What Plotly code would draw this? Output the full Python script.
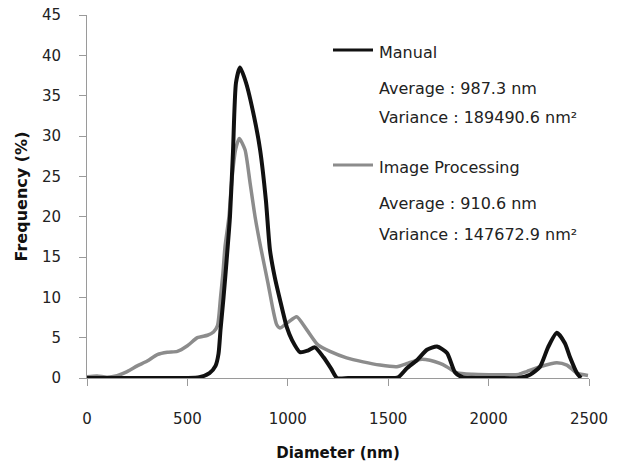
import plotly.graph_objects as go

# ---- data ----
series_names = ["Manual", "Image Processing"]
manual_avg = "Average : 987.3 nm"
manual_var = "Variance : 189490.6 nm²"
image_avg = "Average : 910.6 nm"
image_var = "Variance : 147672.9 nm²"

manual_d = [0, 100, 200, 300, 400, 500, 560, 610, 640, 655, 665, 680, 695, 712, 727, 742, 762,
            792, 832, 862, 891, 911, 935, 961, 995, 1021, 1061, 1100, 1135, 1177, 1215, 1245,
            1300, 1400, 1500, 1550, 1593, 1643, 1693, 1743, 1793, 1833, 1870, 1950, 2050, 2150,
            2206, 2256, 2296, 2340, 2380, 2405, 2440, 2460]
manual_f = [0, 0, 0, 0, 0, 0, 0.1, 0.6, 1.5, 3, 6, 10, 14.5, 20, 28, 36.6, 38.5,
            36.6, 32.4, 28.3, 22, 15.9, 12.5, 9.7, 6.3, 4.7, 3.2, 3.4, 3.8, 2.6, 1.2, 0,
            0, 0, 0, 0.1, 1.2, 2.2, 3.5, 3.9, 3.1, 0.7, 0.1, 0, 0, 0,
            0.4, 1.4, 3.8, 5.6, 4.3, 2.6, 0.6, 0]

image_d = [0, 50, 100, 150, 200, 250, 300, 350, 400, 450, 500, 550, 600, 630, 650, 665, 677,
           687, 707, 720, 740, 758, 787, 812, 837, 865, 901, 927, 945, 961, 1001, 1044, 1094,
           1150, 1210, 1293, 1375, 1459, 1543, 1600, 1658, 1708, 1758, 1791, 1841, 1920, 2000,
           2100, 2150, 2190, 2256, 2340, 2390, 2440, 2495]
image_f = [0.15, 0.25, 0.1, 0.3, 0.8, 1.5, 2.1, 2.9, 3.2, 3.3, 4.0, 5.0, 5.3, 5.7, 6.5, 10, 13,
           16.2, 20, 24.2, 28.3, 29.7, 28.3, 24.2, 20, 16.2, 11.8, 8.4, 6.6, 6.2, 6.9, 7.6, 6.0,
           4.1, 3.3, 2.5, 2.0, 1.6, 1.4, 1.85, 2.3, 2.2, 1.8, 1.4, 0.66, 0.45, 0.4,
           0.4, 0.45, 0.8, 1.4, 1.9, 1.6, 0.6, 0.3]

x_ticks = [0, 500, 1000, 1500, 2000, 2500]
y_ticks = [0, 5, 10, 15, 20, 25, 30, 35, 40, 45]

# ---- layout geometry ----
W, H = 621, 468
L, R, T, B = 87, 589, 15, 378  # plot area in pixels

def px(x):
    return (x - L) / (R - L)

def py(y):
    return (B - y) / (B - T)

BLACK = "#111111"
GRAY = "#8c8c8c"
AXIS = "#9a9a9a"
FONT = "DejaVu Sans"

fig = go.Figure()
fig.add_trace(go.Scatter(x=image_d, y=image_f, mode="lines", name=series_names[1],
                         line=dict(color=GRAY, width=3.5, shape="spline", smoothing=0.6),
                         showlegend=False))
fig.add_trace(go.Scatter(x=manual_d, y=manual_f, mode="lines", name=series_names[0],
                         line=dict(color=BLACK, width=4, shape="spline", smoothing=0.6),
                         showlegend=False))

# legend drawn manually
shapes = [
    dict(type="line", xref="paper", yref="paper", x0=px(333), x1=px(373), y0=py(50), y1=py(50),
         line=dict(color=BLACK, width=3)),
    dict(type="line", xref="paper", yref="paper", x0=px(333), x1=px(373), y0=py(165), y1=py(165),
         line=dict(color=GRAY, width=3)),
]
texts = [
    (series_names[0], 52), (manual_avg, 88), (manual_var, 118),
    (series_names[1], 167), (image_avg, 203), (image_var, 234),
]
annotations = []
for t, y in texts:
    annotations.append(dict(text=t, xref="paper", yref="paper", x=px(377), y=py(y),
                            xanchor="left", yanchor="middle", showarrow=False,
                            font=dict(family=FONT, size=16, color="#222222")))

fig.update_layout(
    width=W, height=H,
    margin=dict(l=L, r=W - R, t=T, b=H - B, pad=0, autoexpand=False),
    paper_bgcolor="white", plot_bgcolor="white",
    font=dict(family=FONT, size=15, color="#222222"),
    shapes=shapes, annotations=annotations,
    xaxis=dict(range=[0, 2500], tickvals=x_ticks, showgrid=False, zeroline=False,
               showline=True, linecolor=AXIS, linewidth=1, automargin=False,
               ticks="outside", ticklen=7, tickcolor=AXIS,
               tickfont=dict(family=FONT, size=15, color="#222222"),
               ticklabelstandoff=20,
               title=dict(text="<b>Diameter (nm)</b>", standoff=20,
                          font=dict(family=FONT, size=15, color="#111111"))),
    yaxis=dict(range=[0, 45], tickvals=y_ticks, showgrid=False, zeroline=False,
               showline=True, linecolor=AXIS, linewidth=1, automargin=False,
               ticks="outside", ticklen=7, tickcolor=AXIS,
               tickfont=dict(family=FONT, size=15, color="#222222"),
               ticklabelstandoff=15,
               title=dict(text="<b>Frequency (%)</b>", standoff=10,
                          font=dict(family=FONT, size=16, color="#111111"))),
)

fig.write_html("out.html")
